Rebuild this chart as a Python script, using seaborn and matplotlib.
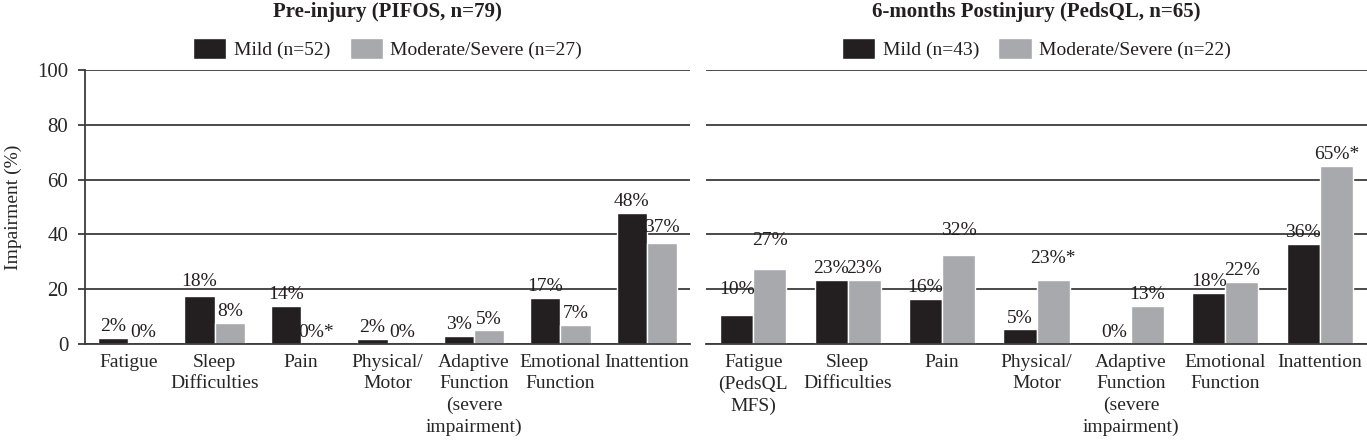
import pandas as pd
import numpy as np
import matplotlib
matplotlib.use('Agg')
import matplotlib.pyplot as plt
import seaborn as sns

'''
Data read off the figure
'''

pre_domains = ['Fatigue', 'Sleep\nDifficulties', 'Pain', 'Physical/\nMotor',
               'Adaptive\nFunction\n(severe\nimpairment)', 'Emotional\nFunction', 'Inattention']
post_domains = ['Fatigue\n(PedsQL\nMFS)', 'Sleep\nDifficulties', 'Pain', 'Physical/\nMotor',
                'Adaptive\nFunction\n(severe\nimpairment)', 'Emotional\nFunction', 'Inattention']

pre_mild = [2.2, 17.6, 13.9, 2.0, 3.1, 16.8, 47.8]
pre_mod = [0, 7.8, 0, 0, 5.0, 6.9, 36.9]
post_mild = [10.6, 23.3, 16.4, 5.3, 0, 18.6, 36.5]
post_mod = [27.4, 23.3, 32.3, 23.3, 14.0, 22.6, 65.0]

pre_mild_labels = ['2%', '18%', '14%', '2%', '3%', '17%', '48%']
pre_mod_labels = ['0%', '8%', '0%*', '0%', '5%', '7%', '37%']
post_mild_labels = ['10%', '23%', '16%', '5%', '0%', '18%', '36%']
post_mod_labels = ['27%', '23%', '32%', '23%*', '13%', '22%', '65%*']

pre_groups = ['Mild (n=52)', 'Moderate/Severe (n=27)']
post_groups = ['Mild (n=43)', 'Moderate/Severe (n=22)']

pre_title = 'Pre-injury (PIFOS, n=79)'
post_title = '6-months Postinjury (PedsQL, n=65)'

'''
Styling
'''

MILD_COLOR = '#231f20'
MOD_COLOR = '#a7a9ac'
GRID_COLOR = '#3c3c3c'
FS = 14

# extra lift (px) for a few labels that sit higher in the original
label_lift = {('post', 0, 0): 14, ('post', 1, 0): 17, ('post', 1, 2): 14,
              ('post', 1, 3): 10, ('pre', 0, 1): 3, ('pre', 1, 6): 4}

sns.set_theme(style='white')
plt.rcParams['font.family'] = ['Liberation Serif', 'DejaVu Serif']
plt.rcParams['text.color'] = '#231f20'


def long_frame(domains, mild, mod, groups):
    return pd.DataFrame({
        'domain': domains * 2,
        'pct': mild + mod,
        'group': [groups[0]] * len(mild) + [groups[1]] * len(mod),
    })


def draw_panel(ax, key, domains, mild, mod, groups, labels, title, show_y):
    df = long_frame(domains, mild, mod, groups)
    sns.barplot(data=df, x='domain', y='pct', hue='group', order=domains,
                hue_order=groups, palette=[MILD_COLOR, MOD_COLOR], width=0.7,
                saturation=1, errorbar=None, ax=ax, zorder=3)

    ax.set_ylim(0, 100)
    ax.set_yticks(np.arange(0, 101, 20))
    ax.yaxis.grid(True, color=GRID_COLOR, lw=1.3)
    ax.set_axisbelow(True)
    for side in ['top', 'right']:
        ax.spines[side].set_visible(False)
    ax.spines['bottom'].set_color(GRID_COLOR)
    ax.spines['bottom'].set_linewidth(1.3)
    ax.spines['bottom'].set_zorder(4)
    ax.set_xlabel('')
    ax.tick_params(axis='x', length=0, pad=7, labelsize=FS)
    ax.set_xticks(range(len(domains)))
    ax.set_xticklabels(domains, linespacing=1.35, fontsize=FS)

    if show_y:
        ax.spines['left'].set_color(GRID_COLOR)
        ax.spines['left'].set_linewidth(1.3)
        ax.tick_params(axis='y', left=True, length=5, width=1.3, color=GRID_COLOR,
                       pad=7, labelsize=FS + 1)
        ax.set_ylabel('Impairment (%)', fontsize=FS, labelpad=11)
    else:
        ax.spines['left'].set_visible(False)
        ax.tick_params(axis='y', left=False, labelleft=False)
        ax.set_ylabel('')

    for gi, cont in enumerate(ax.containers):
        anns = ax.bar_label(cont, labels=labels[gi], padding=2, fontsize=FS,
                            color='#231f20', zorder=5)
        for bi, ann in enumerate(anns):
            extra = label_lift.get((key, gi, bi), 0)
            if extra:
                ann.xyann = (0, 2 + extra * 0.72)

    ax.legend(loc='lower center', bbox_to_anchor=(0.5, 1.0), ncol=2, frameon=False,
              fontsize=FS, handlelength=1.7, handleheight=1.3, handletextpad=0.4,
              columnspacing=1.0, borderaxespad=0.15)
    ax.text(0.5, 1.212, title, transform=ax.transAxes, ha='center', va='center',
            fontsize=15, fontweight='bold')


fig = plt.figure(figsize=(13.67, 4.47), dpi=100)
W, H = 1367, 447
ax1 = fig.add_axes([85 / W, 1 - 344 / H, 605 / W, 274 / H])
ax2 = fig.add_axes([706 / W, 1 - 344 / H, 661 / W, 274 / H])

draw_panel(ax1, 'pre', pre_domains, pre_mild, pre_mod, pre_groups,
           [pre_mild_labels, pre_mod_labels], pre_title, True)
draw_panel(ax2, 'post', post_domains, post_mild, post_mod, post_groups,
           [post_mild_labels, post_mod_labels], post_title, False)

fig.savefig('out.png', dpi=100, facecolor='white')
